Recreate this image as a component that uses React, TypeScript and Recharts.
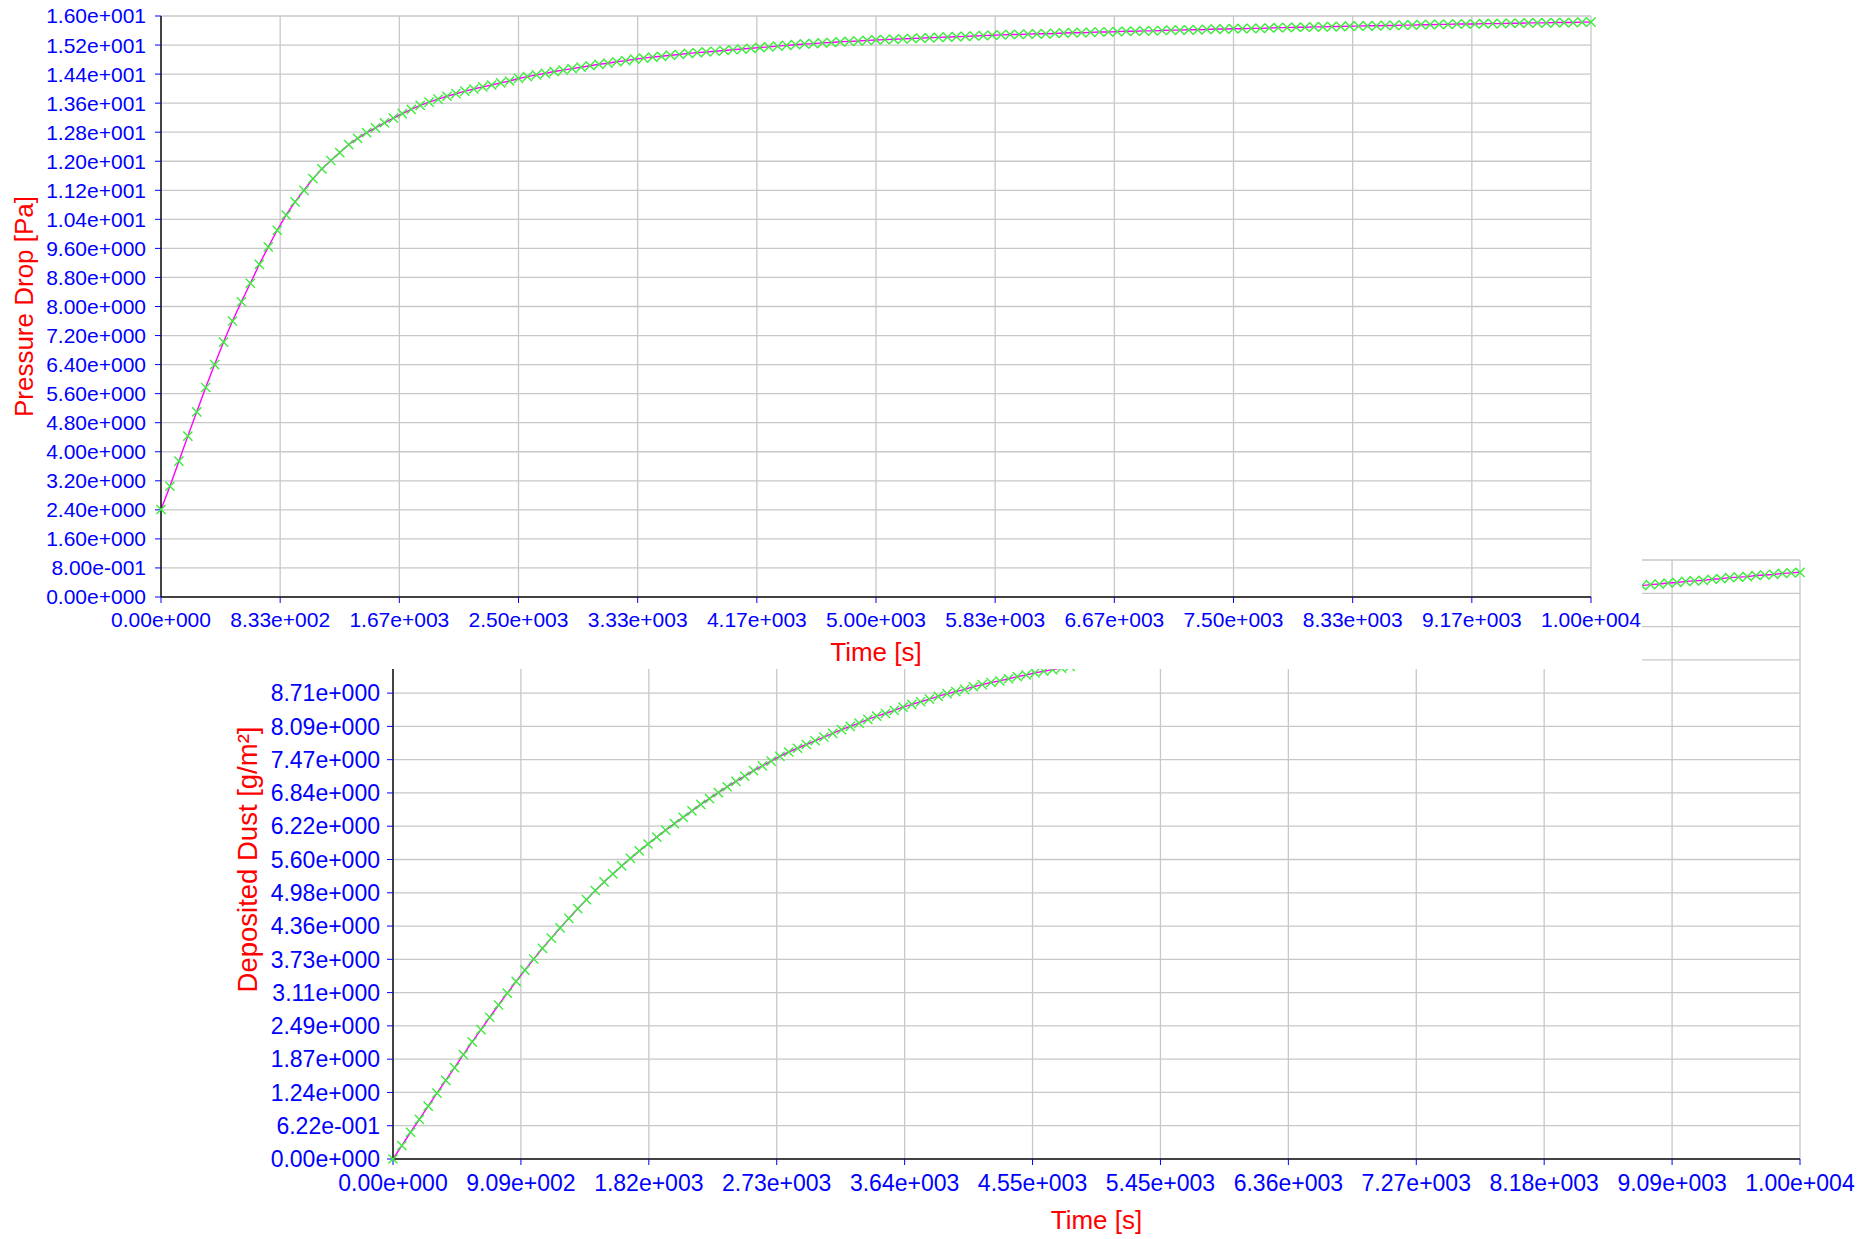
import { LineChart, Line, XAxis, YAxis, CartesianGrid } from 'recharts';

// sample interval of the exported simulation data [s]
const sampleStep = 62.5;

// Pressure Drop [Pa], one value per sample (0 .. 10000 s)
const pressureDrop = [
  2.41, 3.05, 3.74, 4.43, 5.10, 5.77, 6.40, 7.02, 7.60, 8.13,
  8.64, 9.16, 9.64, 10.10, 10.52, 10.88, 11.20, 11.52, 11.79, 12.02,
  12.24, 12.46, 12.63, 12.79, 12.92, 13.06, 13.19, 13.31, 13.43, 13.54,
  13.63, 13.71, 13.79, 13.86, 13.93, 13.99, 14.05, 14.10, 14.16, 14.21,
  14.28, 14.33, 14.38, 14.42, 14.47, 14.51, 14.55, 14.59, 14.63, 14.67,
  14.70, 14.74, 14.77, 14.81, 14.84, 14.87, 14.89, 14.92, 14.94, 14.97,
  14.99, 15.01, 15.03, 15.05, 15.07, 15.09, 15.11, 15.13, 15.15, 15.17,
  15.19, 15.21, 15.23, 15.24, 15.26, 15.27, 15.29, 15.30, 15.31, 15.33,
  15.34, 15.35, 15.36, 15.37, 15.38, 15.39, 15.40, 15.41, 15.42, 15.43,
  15.44, 15.45, 15.46, 15.47, 15.48, 15.49, 15.49, 15.50, 15.51, 15.51,
  15.52, 15.53, 15.54, 15.54, 15.55, 15.56, 15.56, 15.57, 15.58, 15.58,
  15.59, 15.59, 15.60, 15.61, 15.61, 15.62, 15.62, 15.63, 15.64, 15.64,
  15.65, 15.65, 15.66, 15.66, 15.67, 15.68, 15.68, 15.69, 15.69, 15.70,
  15.70, 15.71, 15.71, 15.72, 15.72, 15.73, 15.73, 15.74, 15.74, 15.75,
  15.75, 15.76, 15.76, 15.77, 15.77, 15.78, 15.78, 15.78, 15.79, 15.79,
  15.79, 15.80, 15.80, 15.81, 15.81, 15.81, 15.82, 15.82, 15.82, 15.83,
  15.83,
];

// Deposited Dust [g/m²], one value per sample (0 .. 10000 s)
const depositedDust = [
  0.00, 0.25, 0.50, 0.74, 0.99, 1.23, 1.47, 1.71, 1.95, 2.19,
  2.42, 2.65, 2.88, 3.10, 3.32, 3.53, 3.74, 3.94, 4.13, 4.32,
  4.50, 4.68, 4.85, 5.02, 5.18, 5.33, 5.48, 5.62, 5.76, 5.89,
  6.02, 6.15, 6.27, 6.39, 6.51, 6.63, 6.74, 6.85, 6.96, 7.06,
  7.16, 7.26, 7.35, 7.44, 7.53, 7.61, 7.68, 7.75, 7.82, 7.89,
  7.96, 8.03, 8.09, 8.15, 8.22, 8.28, 8.33, 8.39, 8.45, 8.50,
  8.55, 8.60, 8.65, 8.70, 8.74, 8.78, 8.83, 8.87, 8.91, 8.94,
  8.98, 9.02, 9.05, 9.09, 9.12, 9.15, 9.18, 9.21, 9.25, 9.28,
  9.31, 9.34, 9.37, 9.40, 9.43, 9.46, 9.49, 9.52, 9.55, 9.58,
  9.60, 9.63, 9.66, 9.69, 9.71, 9.74, 9.77, 9.80, 9.82, 9.85,
  9.87, 9.90, 9.92, 9.95, 9.97, 10.00, 10.02, 10.05, 10.07, 10.09,
  10.12, 10.14, 10.16, 10.19, 10.21, 10.23, 10.25, 10.27, 10.29, 10.31,
  10.34, 10.36, 10.38, 10.40, 10.42, 10.43, 10.45, 10.47, 10.49, 10.51,
  10.53, 10.55, 10.56, 10.58, 10.60, 10.61, 10.63, 10.65, 10.66, 10.68,
  10.69, 10.71, 10.72, 10.74, 10.75, 10.77, 10.78, 10.80, 10.81, 10.82,
  10.84, 10.85, 10.87, 10.88, 10.89, 10.91, 10.92, 10.93, 10.95, 10.96,
  10.97,
];

const pressureTicks = [
  0, 0.8, 1.6, 2.4, 3.2, 4.0, 4.8, 5.6, 6.4, 7.2, 8.0,
  8.8, 9.6, 10.4, 11.2, 12.0, 12.8, 13.6, 14.4, 15.2, 16.0,
];
const timeTicksTop = [
  0, 833.33, 1666.67, 2500, 3333.33, 4166.67, 5000,
  5833.33, 6666.67, 7500, 8333.33, 9166.67, 10000,
];
const dustTicks = [
  0, 0.6222, 1.2444, 1.8667, 2.4889, 3.1111, 3.7333, 4.3556, 4.9778, 5.6,
  6.2222, 6.8444, 7.4667, 8.0889, 8.7111, 9.3333, 9.9556, 10.5778, 11.2,
];
const timeTicksBottom = [
  0, 909.09, 1818.18, 2727.27, 3636.36, 4545.45,
  5454.55, 6363.64, 7272.73, 8181.82, 9090.91, 10000,
];

const pressureData = pressureDrop.map((v, i) => ({ t: i * sampleStep, v }));
const dustData = depositedDust.map((v, i) => ({ t: i * sampleStep, v }));

const FONT = '"Liberation Sans", Arial, sans-serif';
const BLUE = '#0000ff';
const RED = '#ff0000';
const GRID = '#c8c8c8';
const LINE = '#ff00ff';
const MARK = '#3cec3c';

// 1.60e+001 style labels
function sci(value: number) {
  const [m, e] = value.toExponential(2).split('e');
  const n = parseInt(e, 10);
  return `${m}e${n < 0 ? '-' : '+'}${String(Math.abs(n)).padStart(3, '0')}`;
}

function Cross(props: any) {
  const { cx, cy } = props;
  if (cx == null || cy == null) return null;
  const r = 4.6;
  return (
    <path
      d={`M${cx - r},${cy - r}L${cx + r},${cy + r}M${cx - r},${cy + r}L${cx + r},${cy - r}`}
      stroke={MARK}
      strokeWidth={1.4}
      fill="none"
    />
  );
}

const topTick = { fill: BLUE, fontSize: 21, fontFamily: FONT };
const bottomTick = { fill: BLUE, fontSize: 23, fontFamily: FONT };
const titleStyle = { fill: RED, fontSize: 26, fontFamily: FONT, textAnchor: 'middle' as const };
const axisLineStyle = { stroke: '#111', strokeWidth: 1.5 };

function DustChart() {
  return (
    <LineChart width={1873} height={1239} data={dustData} margin={{ top: 560, right: 73, bottom: 0, left: 233 }}>
      <CartesianGrid stroke={GRID} strokeWidth={1.3} />
      <XAxis
        dataKey="t"
        type="number"
        domain={[0, 10000]}
        ticks={timeTicksBottom}
        interval={0}
        tickFormatter={sci}
        height={80}
        tick={bottomTick}
        tickSize={6}
        tickMargin={10}
        tickLine={{ stroke: BLUE }}
        axisLine={axisLineStyle}
        label={{ value: 'Time [s]', position: 'insideBottom', offset: 10, style: titleStyle }}
      />
      <YAxis
        dataKey="v"
        type="number"
        domain={[0, 11.2]}
        ticks={dustTicks}
        interval={0}
        tickFormatter={sci}
        width={160}
        tick={bottomTick}
        tickSize={6}
        tickMargin={7}
        tickLine={{ stroke: BLUE }}
        axisLine={axisLineStyle}
        label={{
          value: 'Deposited Dust [g/m²]',
          angle: -90,
          position: 'insideLeft',
          offset: 14,
          style: { ...titleStyle, fontSize: 27.5 },
        }}
      />
      <Line
        type="linear"
        dataKey="v"
        stroke="none"
        dot={(p: any) => <Cross key={`d${p.index}`} {...p} />}
        activeDot={false}
        isAnimationActive={false}
      />
      <Line type="linear" dataKey="v" stroke={LINE} strokeWidth={1.4} dot={false} activeDot={false} isAnimationActive={false} />
    </LineChart>
  );
}

function PressureChart() {
  return (
    <LineChart width={1642} height={669} data={pressureData} margin={{ top: 16, right: 51, bottom: 0, left: 0 }}>
      <CartesianGrid stroke={GRID} strokeWidth={1.3} />
      <XAxis
        dataKey="t"
        type="number"
        domain={[0, 10000]}
        ticks={timeTicksTop}
        interval={0}
        tickFormatter={sci}
        height={72}
        tick={topTick}
        tickSize={6}
        tickMargin={9}
        tickLine={{ stroke: BLUE }}
        axisLine={axisLineStyle}
        label={{ value: 'Time [s]', position: 'insideBottom', offset: 8, style: titleStyle }}
      />
      <YAxis
        dataKey="v"
        type="number"
        domain={[0, 16]}
        ticks={pressureTicks}
        interval={0}
        tickFormatter={sci}
        width={161}
        tick={topTick}
        tickSize={6}
        tickMargin={9}
        tickLine={{ stroke: BLUE }}
        axisLine={axisLineStyle}
        label={{ value: 'Pressure Drop [Pa]', angle: -90, position: 'insideLeft', offset: 24, style: titleStyle }}
      />
      <Line
        type="linear"
        dataKey="v"
        stroke="none"
        dot={(p: any) => <Cross key={`p${p.index}`} {...p} />}
        activeDot={false}
        isAnimationActive={false}
      />
      <Line type="linear" dataKey="v" stroke={LINE} strokeWidth={1.4} dot={false} activeDot={false} isAnimationActive={false} />
    </LineChart>
  );
}

export default function App() {
  return (
    <div style={{ position: 'absolute', left: 0, top: 0, width: 1873, height: 1239, background: '#fff', fontFamily: FONT }}>
      <div style={{ position: 'absolute', left: 0, top: 0 }}>
        <DustChart />
      </div>
      <div style={{ position: 'absolute', left: 0, top: 0, width: 1642, height: 669, background: '#fff' }}>
        <PressureChart />
      </div>
    </div>
  );
}
